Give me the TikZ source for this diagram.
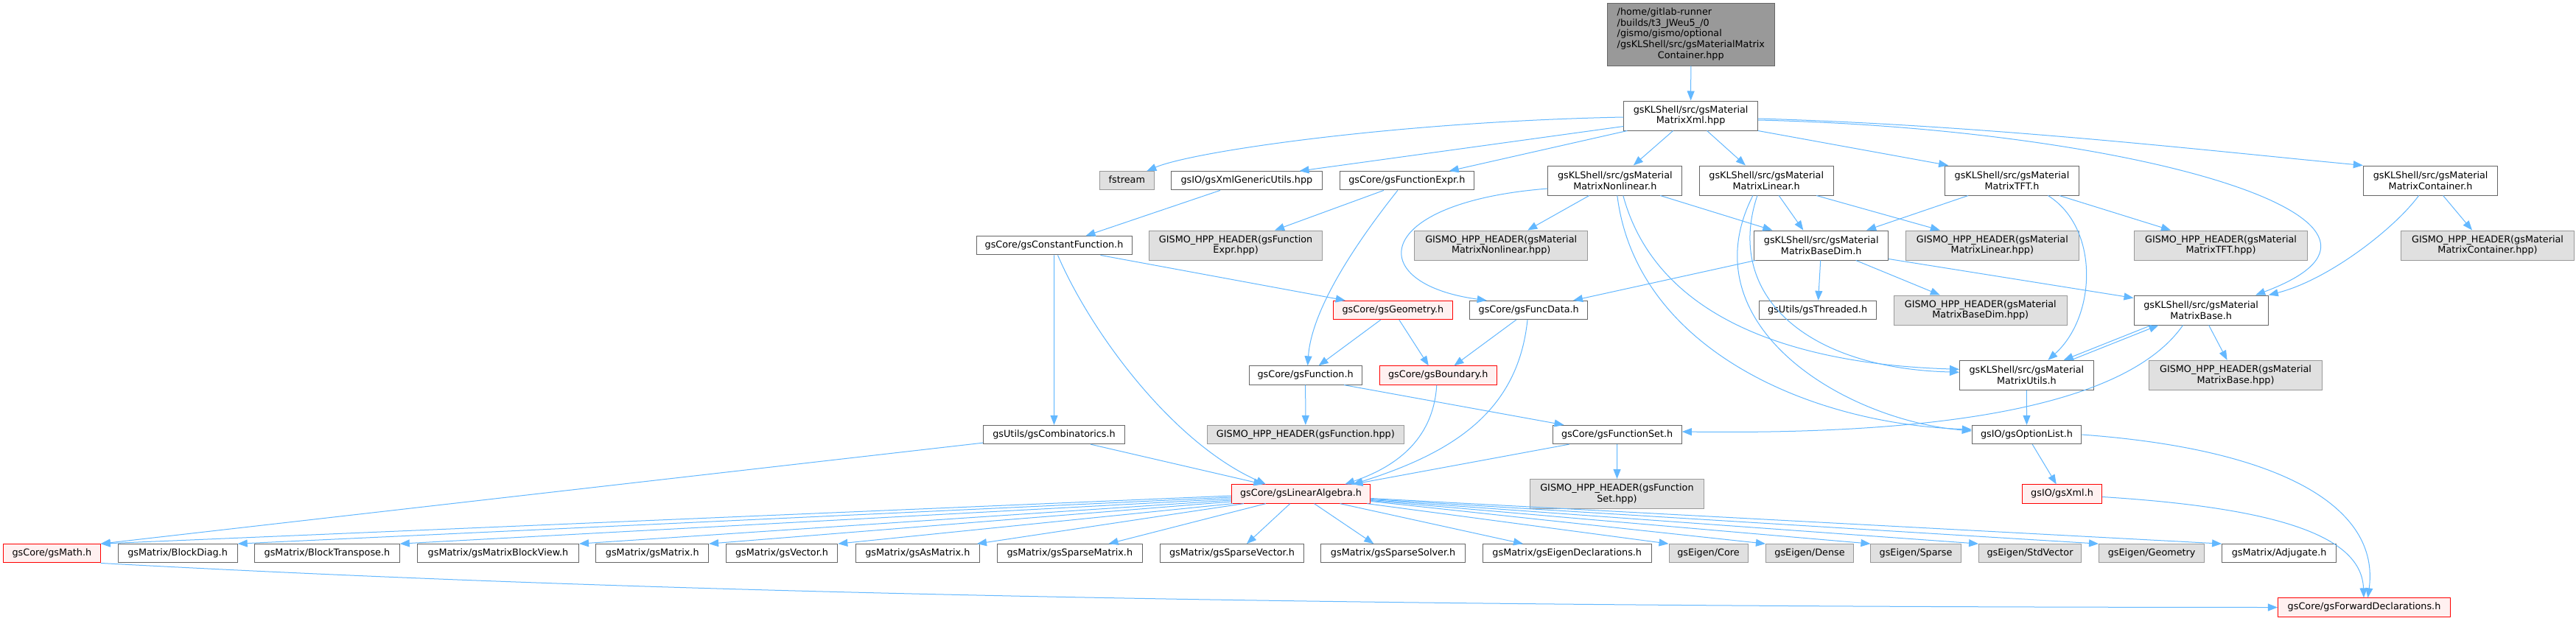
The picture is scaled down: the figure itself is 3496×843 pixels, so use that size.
\documentclass[tikz,border=0pt]{standalone}
\usepackage{fontspec}
\setmainfont{DejaVu Sans}
\usetikzlibrary{arrows.meta,calc}
\definecolor{edgec}{HTML}{63B8FF}
\definecolor{bdark}{HTML}{666666}
\definecolor{bgray}{HTML}{999999}
\definecolor{fgray}{HTML}{E0E0E0}
\definecolor{fred}{HTML}{FFF0F0}
\definecolor{bred}{HTML}{FF0000}
\definecolor{froot}{HTML}{999999}
\newcommand{\nodefnt}{\fontsize{12.8}{14.8}\selectfont}
\begin{document}
\begin{tikzpicture}[x=1pt,y=-1pt,
  box/.style={draw=bdark, fill=white, line width=1pt, inner sep=0pt, font=\nodefnt, align=center},
  gbox/.style={box, draw=bgray, fill=fgray},
  rbox/.style={box, draw=bred, fill=fred},
  rootbox/.style={box, draw=bdark, fill=froot},
  one/.style={minimum height=25.3pt, text height=9.6pt, text depth=3pt},
  two/.style={minimum height=40pt},
  conn/.style={draw=edgec, line width=1pt, -{Triangle[length=13pt,width=10pt]}},
]
\fill[white] (0,0) rectangle (3496,843);
\useasboundingbox (0,0) rectangle (3496,843);

% rank 0-1
\node[rootbox, minimum width=227.2pt, minimum height=84pt] (root) at (2294.8,47)
  {\begin{tabular}{@{}l@{}}/home/gitlab-runner\\/builds/t3\_JWeu5\_/0\\/gismo/gismo/optional\\/gsKLShell/src/gsMaterialMatrix\\\multicolumn{1}{@{}c@{}}{Container.hpp}\end{tabular}};
\node[box,two,minimum width=181.6pt] (xml) at (2294.6,157) {gsKLShell/src/gsMaterial\\MatrixXml.hpp};

% rank 2
\node[gbox,one,minimum width=73.4pt] (fstream) at (1529.3,245.3) {fstream};
\node[box,one,minimum width=204.2pt] (xmlgen) at (1691.9,245.3) {gsIO/gsXmlGenericUtils.hpp};
\node[box,one,minimum width=181.7pt] (fexpr) at (1909.35,245.3) {gsCore/gsFunctionExpr.h};
\node[box,two,minimum width=181.8pt] (nonlin) at (2191.8,245) {gsKLShell/src/gsMaterial\\MatrixNonlinear.h};
\node[box,two,minimum width=181.6pt] (linear) at (2397.2,245) {gsKLShell/src/gsMaterial\\MatrixLinear.h};
\node[box,two,minimum width=181.7pt] (tft) at (2730.45,245) {gsKLShell/src/gsMaterial\\MatrixTFT.h};
\node[box,two,minimum width=182.6pt] (container) at (3298.6,245) {gsKLShell/src/gsMaterial\\MatrixContainer.h};

% rank 3
\node[box,one,minimum width=211pt] (constfun) at (1430.5,333.3) {gsCore/gsConstantFunction.h};
\node[gbox,two,minimum width=235.2pt] (fexprhpp) at (1677.1,333) {GISMO\_HPP\_HEADER(gsFunction\\Expr.hpp)};
\node[gbox,two,minimum width=235pt] (nonlinhpp) at (2037.2,333) {GISMO\_HPP\_HEADER(gsMaterial\\MatrixNonlinear.hpp)};
\node[box,two,minimum width=181.8pt] (basedim) at (2471.7,333) {gsKLShell/src/gsMaterial\\MatrixBaseDim.h};
\node[gbox,two,minimum width=235pt] (linearhpp) at (2703.85,333) {GISMO\_HPP\_HEADER(gsMaterial\\MatrixLinear.hpp)};
\node[gbox,two,minimum width=235pt] (tfthpp) at (3014,333) {GISMO\_HPP\_HEADER(gsMaterial\\MatrixTFT.hpp)};
\node[gbox,two,minimum width=235pt] (containerhpp) at (3376,333) {GISMO\_HPP\_HEADER(gsMaterial\\MatrixContainer.hpp)};

% rank 4
\node[rbox,one,minimum width=162.2pt] (geometry) at (1890.4,421) {gsCore/gsGeometry.h};
\node[box,one,minimum width=159.6pt] (funcdata) at (2074.7,421) {gsCore/gsFuncData.h};
\node[box,one,minimum width=159.2pt] (threaded) at (2466.6,421) {gsUtils/gsThreaded.h};
\node[gbox,two,minimum width=235pt] (basedimhpp) at (2687.8,421) {GISMO\_HPP\_HEADER(gsMaterial\\MatrixBaseDim.hpp)};
\node[box,two,minimum width=182.3pt] (base) at (2987.15,421) {gsKLShell/src/gsMaterial\\MatrixBase.h};

% rank 5
\node[box,one,minimum width=153.3pt] (function) at (1771.65,509.5) {gsCore/gsFunction.h};
\node[rbox,one,minimum width=158.8pt] (boundary) at (1951.8,509.5) {gsCore/gsBoundary.h};
\node[box,two,minimum width=181.7pt] (utils) at (2750.35,509.3) {gsKLShell/src/gsMaterial\\MatrixUtils.h};
\node[gbox,two,minimum width=235pt] (basehpp) at (3034,509.3) {GISMO\_HPP\_HEADER(gsMaterial\\MatrixBase.hpp)};

% rank 6
\node[box,one,minimum width=192.1pt] (combinatorics) at (1430.55,590) {gsUtils/gsCombinatorics.h};
\node[gbox,one,minimum width=267.7pt] (functionhpp) at (1771.85,590) {GISMO\_HPP\_HEADER(gsFunction.hpp)};
\node[box,one,minimum width=175.3pt] (functionset) at (2194.65,590) {gsCore/gsFunctionSet.h};
\node[box,one,minimum width=148.5pt] (optionlist) at (2750.55,590) {gsIO/gsOptionList.h};

% rank 7
\node[rbox,one,minimum width=188.5pt] (linalg) at (1765.55,670.5) {gsCore/gsLinearAlgebra.h};
\node[gbox,two,minimum width=235.3pt] (functionsethpp) at (2194.45,670.5) {GISMO\_HPP\_HEADER(gsFunction\\Set.hpp)};
\node[rbox,one,minimum width=108.3pt] (xmlh) at (2798.55,670.5) {gsIO/gsXml.h};

% rank 8
\node[rbox,one,minimum width=131.6pt] (math) at (70.4,751.3) {gsCore/gsMath.h};
\node[box,one,minimum width=162.2pt] (blockdiag) at (241.1,751.3) {gsMatrix/BlockDiag.h};
\node[box,one,minimum width=196.7pt] (blocktranspose) at (443.95,751.3) {gsMatrix/BlockTranspose.h};
\node[box,one,minimum width=219.1pt] (blockview) at (675.95,751.3) {gsMatrix/gsMatrixBlockView.h};
\node[box,one,minimum width=152.7pt] (gsmatrix) at (885.25,751.3) {gsMatrix/gsMatrix.h};
\node[box,one,minimum width=151.5pt] (gsvector) at (1061.05,751.3) {gsMatrix/gsVector.h};
\node[box,one,minimum width=168.4pt] (asmatrix) at (1245.3,751.3) {gsMatrix/gsAsMatrix.h};
\node[box,one,minimum width=196.4pt] (sparsematrix) at (1451.8,751.3) {gsMatrix/gsSparseMatrix.h};
\node[box,one,minimum width=195pt] (sparsevector) at (1672,751.3) {gsMatrix/gsSparseVector.h};
\node[box,one,minimum width=195.6pt] (sparsesolver) at (1890.6,751.3) {gsMatrix/gsSparseSolver.h};
\node[box,one,minimum width=228.5pt] (eigendecl) at (2126.75,751.3) {gsMatrix/gsEigenDeclarations.h};
\node[gbox,one,minimum width=107pt] (core) at (2318.5,751.3) {gsEigen/Core};
\node[gbox,one,minimum width=119.1pt] (dense) at (2456,751.3) {gsEigen/Dense};
\node[gbox,one,minimum width=122.1pt] (sparse) at (2600,751.3) {gsEigen/Sparse};
\node[gbox,one,minimum width=138.9pt] (stdvector) at (2755,751.3) {gsEigen/StdVector};
\node[gbox,one,minimum width=143.3pt] (eigengeom) at (2920.15,751.3) {gsEigen/Geometry};
\node[box,one,minimum width=155pt] (adjugate) at (3093.1,751.3) {gsMatrix/Adjugate.h};

% rank 9
\node[rbox,one,minimum width=234.2pt] (fwd) at (3208.5,824.5) {gsCore/gsForwardDeclarations.h};

% ---------------- edges ----------------
\draw[conn] (root.south) -- (xml.north);
\draw[conn] ($(xml.west)+(0,2)$) .. controls (1900,165) and (1620,205) .. ($(fstream.north)+(27,0)$);
\draw[conn] ($(xml.south west)+(0,-6)$) -- ($(xmlgen.north east)+(-31,0)$);
\draw[conn] ($(xml.south west)+(5,0)$) -- ($(fexpr.north east)+(-34,0)$);
\draw[conn] ($(xml.south)+(-24,0)$) -- ($(nonlin.north)+(25,0)$);
\draw[conn] ($(xml.south)+(22,0)$) -- ($(linear.north west)+(63,0)$);
\draw[conn] (xml.south east) -- ($(tft.north west)+(5,0)$);
\draw[conn] ($(xml.east)+(0,4)$) .. controls (2700,170) and (3000,205) .. (container.north west);
\draw[conn] ($(xml.east)+(0,6)$) .. controls (2900,175) and (3330,300) .. ($(base.north)+(74,0)$);

\draw[conn] ($(container.south)+(17,0)$) -- ($(containerhpp.north)+(-21,0)$);
\draw[conn] ($(container.south)+(-16,0)$) .. controls (3250,310) and (3160,380) .. (base.north east);

\draw[conn] ($(xmlgen.south)+(-36,0)$) -- ($(constfun.north)+(43,0)$);
\draw[conn] ($(fexpr.south)+(-31.5,0)$) -- ($(fexprhpp.north)+(53,0)$);
\draw[conn] ($(fexpr.south)+(-12.5,0)$) .. controls (1840,330) and (1780,420) .. ($(function.north)+(3,0)$);

\draw[conn] (constfun) -- (combinatorics);
\draw[conn] ($(constfun.south)+(5,0)$) .. controls (1480,450) and (1590,600) .. ($(linalg.north west)+(47,0)$);
\draw[conn] ($(constfun.south east)+(-43,0)$) -- ($(geometry.north west)+(17,0)$);

\draw[conn] ($(nonlin.south)+(-35,0)$) -- ($(nonlinhpp.north)+(36,0)$);
\draw[conn] ($(nonlin.west)+(0,11)$) .. controls (1860,275) and (1850,385) .. ($(funcdata.north)+(-57,0)$);
\draw[conn] ($(nonlin.south east)+(-30,0)$) -- ($(basedim.north west)+(25,0)$);
\draw[conn] ($(nonlin.south)+(11,0)$) .. controls (2250,440) and (2450,495) .. ($(utils.west)+(0,-8)$);
\draw[conn] ($(nonlin.south)+(3,0)$) .. controls (2220,470) and (2450,575) .. ($(optionlist.west)+(0,-7)$);

\draw[conn] ($(linear.south west)+(79,0)$) .. controls (2340,400) and (2450,500) .. ($(utils.west)+(0,-4)$);
\draw[conn] ($(linear.south west)+(73,0)$) .. controls (2290,440) and (2500,570) .. ($(optionlist.west)+(0,-5)$);
\draw[conn] ($(linear.south)+(68,0)$) -- ($(linearhpp.north west)+(47,0)$);
\draw[conn] ($(linear.south)+(17,0)$) -- ($(basedim.north west)+(67,0)$);

\draw[conn] ($(tft.south west)+(32,0)$) -- ($(basedim.north east)+(-30,0)$);
\draw[conn] ($(tft.south east)+(-27,0)$) -- ($(tfthpp.north west)+(50,0)$);
\draw[conn] ($(tft.south)+(49,0)$) .. controls (2850,310) and (2845,430) .. ($(utils.north)+(29,0)$);

\draw[conn] ($(basedim.south)+(-1,0)$) -- ($(threaded.north)+(1,0)$);
\draw[conn] ($(basedim.south)+(47,0)$) -- ($(basedimhpp.north west)+(63,0)$);
\draw[conn] ($(basedim.south east)+(0,-2)$) -- ($(base.north west)+(0,4)$);
\draw[conn] ($(basedim.south west)+(2,0)$) -- ($(funcdata.north east)+(-20,0)$);

\draw[conn] ($(geometry.south west)+(65,0)$) -- ($(function.north)+(18,0)$);
\draw[conn] ($(geometry.south)+(8.4,0)$) -- ($(boundary.north)+(-13,0)$);
\draw[conn] ($(funcdata.south)+(-17,0)$) -- ($(boundary.north)+(21.6,0)$);
\draw[conn] ($(funcdata.south)+(-1.7,0)$) .. controls (2060,560) and (1970,615) .. ($(linalg.north east)+(-24,0)$);
\draw[conn] ($(boundary.south)+(-2,0)$) .. controls (1945,600) and (1890,635) .. ($(linalg.north east)+(-35,0)$);

\draw[conn] (function) -- (functionhpp);
\draw[conn] ($(function.south)+(52.5,0)$) -- ($(functionset.north west)+(16,0)$);
\draw[conn] ($(functionset.south west)+(23,0)$) -- ($(linalg.north east)+(-24,0)$);
\draw[conn] (functionset) -- (functionsethpp);

\draw[conn] ($(base.south west)+(67,0)$) .. controls (2880,560) and (2600,590) .. ($(functionset.east)+(0,-4)$);
\draw[conn] ($(base.south west)+(24,0)$) -- ($(utils.north east)+(-41,0)$);
\draw[conn] ($(utils.north east)+(-31,0)$) -- ($(base.south west)+(34,0)$);
\draw[conn] ($(base.south)+(10.5,0)$) -- ($(basehpp.north)+(-11.5,0)$);

\draw[conn] (utils) -- (optionlist);
\draw[conn] ($(optionlist.south)+(7.6,0)$) -- ($(xmlh.north)+(-7.8,0)$);
\draw[conn] (optionlist.east) .. controls (3100,610) and (3230,690) .. ($(fwd.north)+(5,0)$);
\draw[conn] ($(xmlh.east)+(0,4)$) .. controls (3100,690) and (3205,730) .. ($(fwd.north)+(-0.5,0)$);
\draw[conn] (math.south east) .. controls (700,795) and (1500,824) .. (fwd.west);

\draw[conn] ($(combinatorics.south west)+(0,-2)$) -- (math.north east);
\draw[conn] ($(combinatorics.south east)+(-47,0)$) -- ($(linalg.north west)+(43.6,0)$);

% linear algebra fan-out
\draw[conn] ($(linalg.west)+(0,2.5)$) -- (math.north east);
\draw[conn] ($(linalg.west)+(0,4.5)$) -- (blockdiag.north east);
\draw[conn] ($(linalg.west)+(0,6.5)$) -- (blocktranspose.north east);
\draw[conn] ($(linalg.west)+(0,8.5)$) -- (blockview.north east);
\draw[conn] ($(linalg.west)+(0,10.5)$) -- (gsmatrix.north east);
\draw[conn] ($(linalg.south west)+(2,0)$) -- (gsvector.north east);
\draw[conn] ($(linalg.south west)+(17,0)$) -- ($(asmatrix.north east)+(-4,0)$);
\draw[conn] ($(linalg.south west)+(47,0)$) -- ($(sparsematrix.north east)+(-46,0)$);
\draw[conn] ($(linalg.south west)+(80,0)$) -- ($(sparsevector.north)+(20,0)$);
\draw[conn] ($(linalg.south)+(18,0)$) -- ($(sparsesolver.north west)+(72,0)$);
\draw[conn] ($(linalg.south)+(53,0)$) -- ($(eigendecl.north west)+(55,0)$);
\draw[conn] ($(linalg.south east)+(-5,0)$) -- (core.north west);
\draw[conn] ($(linalg.east)+(0,10)$) -- (dense.north west);
\draw[conn] ($(linalg.east)+(0,9)$) -- (sparse.north west);
\draw[conn] ($(linalg.east)+(0,8)$) -- (stdvector.north west);
\draw[conn] ($(linalg.east)+(0,7)$) -- (eigengeom.north west);
\draw[conn] ($(linalg.east)+(0,6)$) -- (adjugate.north west);
\end{tikzpicture}
\end{document}
